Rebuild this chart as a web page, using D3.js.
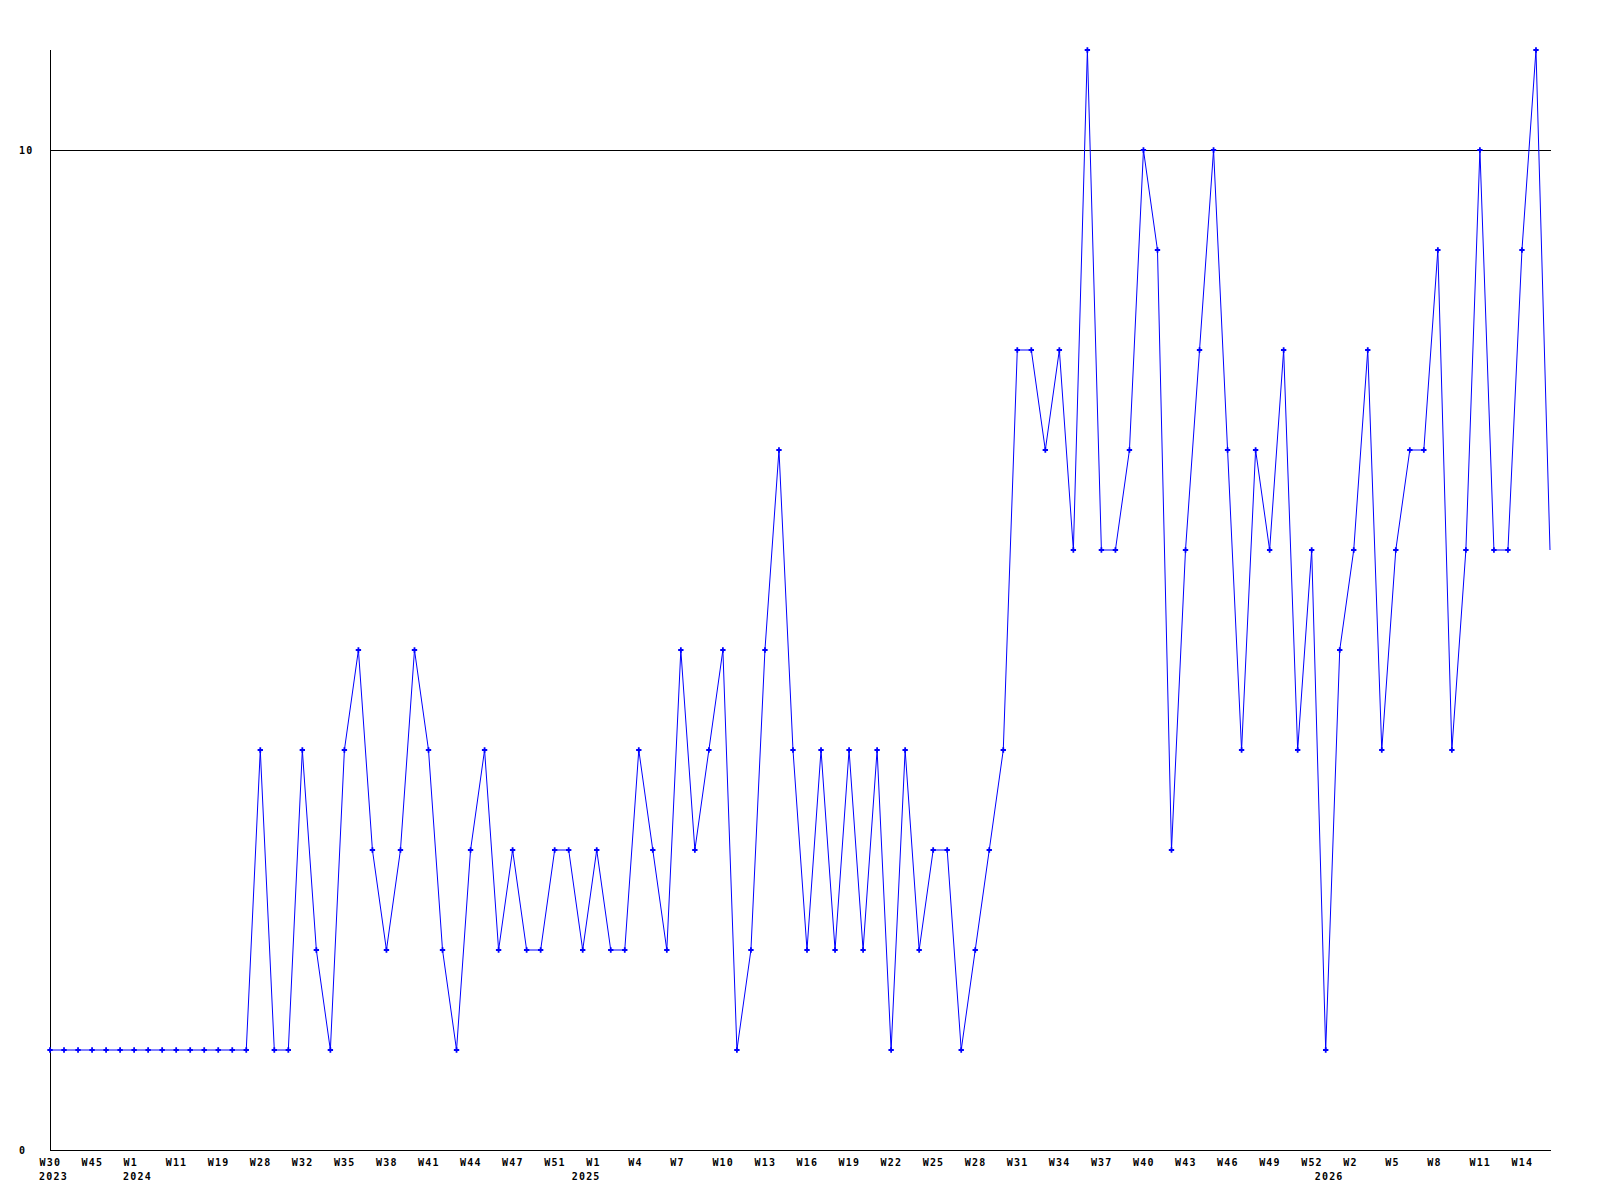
<!DOCTYPE html>
<html>
<head>
    <title>weekly line</title>
    <script type="text/javascript" src="https://cdn.jsdelivr.net/npm/d3@7/dist/d3.min.js"></script>
    <style type="text/css">
        body { margin: 0; background: #fff; }
        svg text {
            font-family: "DejaVu Sans Mono", monospace;
            font-weight: bold;
            font-size: 10px;
            letter-spacing: 1.2px;
            fill: #000;
        }
    </style>
</head>
<body>
    <svg id="chart" width="1600" height="1200"></svg>
</body>

<script type="text/javascript">

    // one value per week, oldest first
    let values = [
        1, 1, 1, 1, 1, 1, 1, 1, 1, 1, 1, 1, 1, 1, 1,
        4, 1, 1, 4, 2, 1, 4, 5, 3, 2, 3, 5, 4, 2, 1,
        3, 4, 2, 3, 2, 2, 3, 3, 2, 3, 2, 2, 4, 3, 2,
        5, 3, 4, 5, 1, 2, 5, 7, 4, 2, 4, 2, 4, 2, 4,
        1, 4, 2, 3, 3, 1, 2, 3, 4, 8, 8, 7, 8, 6, 11,
        6, 6, 7, 10, 9, 3, 6, 8, 10, 7, 4, 7, 6, 8, 4,
        6, 1, 5, 6, 8, 4, 6, 7, 7, 9, 4, 6, 10, 6, 6,
        9, 11, 6
    ];

    // x tick labels, one every third point
    let tickIndex = [0, 3, 6, 9, 12, 15, 18, 21, 24, 27, 30, 33, 36, 39, 42, 45, 48, 51,
                     54, 57, 60, 63, 66, 69, 72, 75, 78, 81, 84, 87, 90, 93, 96, 99, 102, 105];
    let tickLabels = ["W30", "W45", "W1", "W11", "W19", "W28", "W32", "W35", "W38", "W41", "W44", "W47",
                      "W51", "W1", "W4", "W7", "W10", "W13", "W16", "W19", "W22", "W25", "W28", "W31",
                      "W34", "W37", "W40", "W43", "W46", "W49", "W52", "W2", "W5", "W8", "W11", "W14"];
    let yearIndex = [0, 6, 38, 91];
    let yearLabels = ["2023", "2024", "2025", "2026"];

    let yTicks = [0, 10];

    let svg = d3.select("#chart");

    let x = d3.scaleLinear().domain([0, values.length - 1]).range([50, 1550]);
    let y = d3.scaleLinear().domain([0, 11]).range([1150, 50]);

    // grid line at 10
    svg.selectAll("line.grid")
        .data(yTicks.filter(d => d > 0))
        .enter().append("line")
        .attr("class", "grid")
        .attr("x1", 50).attr("x2", 1551)
        .attr("y1", d => Math.round(y(d)) + 0.5)
        .attr("y2", d => Math.round(y(d)) + 0.5)
        .attr("stroke", "#000")
        .attr("shape-rendering", "crispEdges");

    // axes
    svg.append("line")
        .attr("x1", 50.5).attr("x2", 50.5)
        .attr("y1", 50).attr("y2", 1150)
        .attr("stroke", "#000")
        .attr("shape-rendering", "crispEdges");
    svg.append("line")
        .attr("x1", 50).attr("x2", 1551)
        .attr("y1", 1150.5).attr("y2", 1150.5)
        .attr("stroke", "#000")
        .attr("shape-rendering", "crispEdges");

    svg.selectAll("text.ylab")
        .data(yTicks)
        .enter().append("text")
        .attr("class", "ylab")
        .attr("x", 19)
        .attr("y", d => y(d) + 4)
        .text(d => d);

    // week labels start a little left of their point
    let xAxis = d3.axisBottom(x)
        .tickValues(tickIndex)
        .tickSize(0)
        .tickPadding(0)
        .tickFormat((d, i) => tickLabels[i]);

    let gx = svg.append("g")
        .attr("transform", "translate(0,1166)")
        .call(xAxis);
    gx.select(".domain").remove();
    gx.selectAll("text")
        .attr("dy", 0)
        .attr("y", 0)
        .attr("x", -11)
        .attr("text-anchor", "start")
        .attr("fill", "#000")
        .style("font-family", "'DejaVu Sans Mono', monospace")
        .style("font-weight", "bold")
        .style("font-size", "10px")
        .style("letter-spacing", "1.2px");
    gx.attr("text-anchor", null);

    svg.selectAll("text.year")
        .data(yearIndex)
        .enter().append("text")
        .attr("class", "year")
        .attr("x", d => x(d) - 11)
        .attr("y", 1180)
        .text((d, i) => yearLabels[i]);

    // series
    let line = d3.line()
        .x((d, i) => x(i))
        .y(d => y(d));

    svg.append("path")
        .attr("d", line(values))
        .attr("fill", "none")
        .attr("stroke", "#0000ff")
        .attr("stroke-width", 1);

    svg.selectAll("path.mark")
        .data(values.slice(0, values.length - 1))
        .enter().append("path")
        .attr("class", "mark")
        .attr("d", d3.symbol().type(d3.symbolCross).size(16))
        .attr("transform", (d, i) => "translate(" + x(i) + "," + y(d) + ")")
        .attr("fill", "#0000ff");
</script>

</html>
